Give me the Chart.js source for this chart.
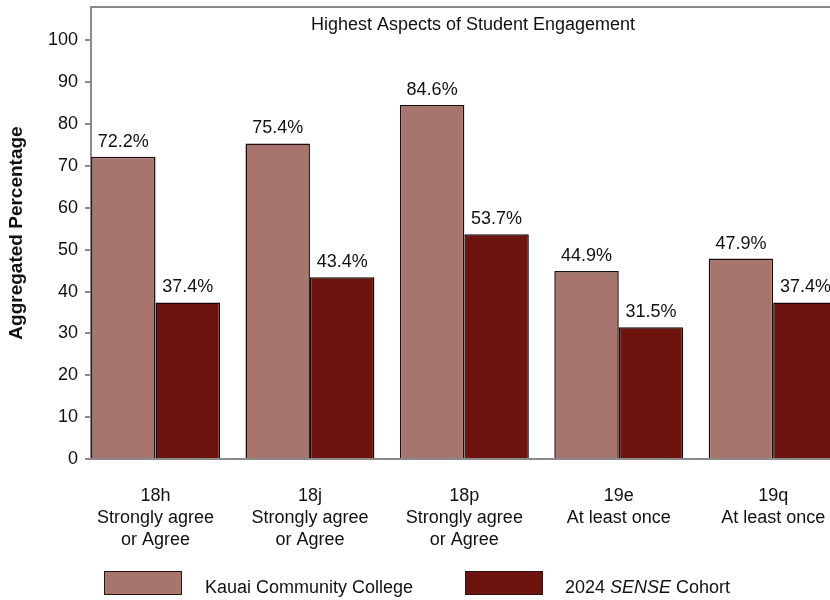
<!DOCTYPE html>
<html>
<head>
<meta charset="utf-8">
<script src="https://cdn.jsdelivr.net/npm/chart.js@4.4.1/dist/chart.umd.min.js"></script>
<style>
  html, body { margin: 0; padding: 0; background: #fff; overflow: hidden; }
  #wrap { position: relative; width: 860px; height: 600px; }
  #legend { position: absolute; left: 0; top: 0; font: 18px "Liberation Sans", Arial, sans-serif; color: #111; }
  .box { position: absolute; top: 571px; width: 76px; height: 22px; border: 1px solid #2a1412; }
  .lbl { position: absolute; top: 576px; line-height: 23px; white-space: nowrap; }
</style>
</head>
<body>
<div id="wrap">
  <canvas id="myChart" width="860" height="600"></canvas>
  <div id="legend"></div>
</div>
<script>
// Dados do gráfico
var chartTitle = 'Highest Aspects of Student Engagement';
var categories = [
    ['18h', 'Strongly agree', 'or Agree'],
    ['18j', 'Strongly agree', 'or Agree'],
    ['18p', 'Strongly agree', 'or Agree'],
    ['19e', 'At least once'],
    ['19q', 'At least once']
];
var seriesNames = ['Kauai Community College', '2024 SENSE Cohort'];
var kauaiValues = [72.2, 75.4, 84.6, 44.9, 47.9];
var cohortValues = [37.4, 43.4, 53.7, 31.5, 37.4];
var yTicks = [0, 10, 20, 30, 40, 50, 60, 70, 80, 90, 100];
var seriesColors = ['#a8746e', '#6d140f'];

var font = '"Liberation Sans", Arial, sans-serif';
var axisGray = '#8a8a8a';

function toPoints(values) {
    return values.map(function(v, i) { return { x: i, y: v }; });
}

// Plugin: borda superior, título e rótulos dos valores
var extras = {
    id: 'extras',
    afterDatasetsDraw: function(chart) {
        var ctx = chart.ctx, a = chart.chartArea;
        ctx.save();
        ctx.strokeStyle = axisGray;
        ctx.lineWidth = 2;
        ctx.beginPath();
        ctx.moveTo(a.left, a.top);
        ctx.lineTo(a.right, a.top);
        ctx.stroke();

        ctx.fillStyle = '#111';
        ctx.textAlign = 'center';
        ctx.textBaseline = 'alphabetic';
        ctx.font = '18px ' + font;
        ctx.fillText(chartTitle, (a.left + a.right) / 2, a.top + 23);

        chart.data.datasets.forEach(function(ds, di) {
            chart.getDatasetMeta(di).data.forEach(function(bar, i) {
                ctx.fillText(ds.data[i].y.toFixed(1) + '%', bar.x, bar.y - 10);
            });
        });
        ctx.restore();
    }
};

function noPadding(s) {
    s.paddingTop = 0;
    s.paddingBottom = 0;
    s.paddingLeft = 0;
    s.paddingRight = 0;
}

var ctx = document.getElementById('myChart').getContext('2d');
var myChart = new Chart(ctx, {
    type: 'bar',
    data: {
        datasets: [{
            label: seriesNames[0],
            data: toPoints(kauaiValues),
            backgroundColor: seriesColors[0],
            borderColor: '#1c0b09',
            borderWidth: 1.5
        }, {
            label: seriesNames[1],
            data: toPoints(cohortValues),
            backgroundColor: seriesColors[1],
            borderColor: '#160403',
            borderWidth: 1.5
        }]
    },
    options: {
        responsive: false,
        animation: false,
        layout: { padding: { top: 7, right: 5, left: 0, bottom: 0 } },
        categoryPercentage: 0.835,
        barPercentage: 1.0,
        plugins: {
            legend: { display: false },
            tooltip: { enabled: false }
        },
        scales: {
            x: {
                type: 'linear',
                offset: false,
                min: -0.418,
                max: 4.53,
                grid: { display: false, drawTicks: false },
                border: { display: true, color: axisGray, width: 2 },
                afterBuildTicks: function(s) {
                    s.ticks = categories.map(function(c, i) { return { value: i }; });
                },
                afterFit: function(s) { s.height = 141; noPadding(s); },
                ticks: {
                    autoSkip: false,
                    maxRotation: 0,
                    padding: 26,
                    color: '#111',
                    font: { family: font, size: 18, lineHeight: 1.22 },
                    callback: function(v) { return categories[v]; }
                }
            },
            y: {
                min: 0,
                max: 108,
                grid: { display: true, drawOnChartArea: false, color: axisGray, tickLength: 6, lineWidth: 2 },
                border: { display: true, color: axisGray, width: 2 },
                afterBuildTicks: function(s) {
                    s.ticks = yTicks.map(function(v) { return { value: v }; });
                },
                afterFit: function(s) { s.width = 91; noPadding(s); },
                ticks: {
                    padding: 7,
                    color: '#111',
                    font: { family: font, size: 18 }
                },
                title: {
                    display: true,
                    text: 'Aggregated Percentage',
                    color: '#111',
                    font: { family: font, size: 19, weight: 'bold' },
                    padding: { top: 5, bottom: 0 }
                }
            }
        }
    },
    plugins: [extras]
});

// Legenda em HTML (com SENSE em itálico)
var legendPos = [{ box: 104, text: 205 }, { box: 465, text: 565 }];
var legend = document.getElementById('legend');
myChart.data.datasets.forEach(function(ds, i) {
    var box = document.createElement('div');
    box.className = 'box';
    box.style.left = legendPos[i].box + 'px';
    box.style.background = ds.backgroundColor;
    legend.appendChild(box);
    var lbl = document.createElement('div');
    lbl.className = 'lbl';
    lbl.style.left = legendPos[i].text + 'px';
    lbl.innerHTML = ds.label.replace('SENSE', '<i>SENSE</i>');
    legend.appendChild(lbl);
});
</script>
</body>
</html>
